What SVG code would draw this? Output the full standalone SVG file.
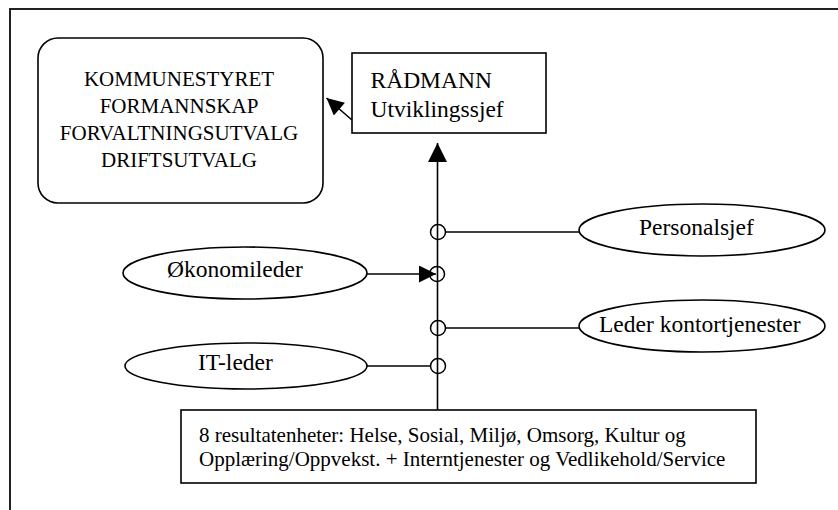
<svg xmlns="http://www.w3.org/2000/svg" width="838" height="510" viewBox="0 0 838 510" font-family="'Liberation Serif', 'Times New Roman', 'DejaVu Serif', serif">
<defs>
<marker id="arr" viewBox="0 0 10 10" refX="10" refY="5" markerWidth="18" markerHeight="17" markerUnits="userSpaceOnUse" orient="auto"><path d="M0,0 L10,5 L0,10 z" fill="#000"/></marker>
<marker id="arrBig" viewBox="0 0 10 10" refX="10" refY="5" markerWidth="19" markerHeight="19" markerUnits="userSpaceOnUse" orient="auto"><path d="M0,0 L10,5 L0,10 z" fill="#000"/></marker>
</defs>
<style>
.shape{fill:#fff;stroke:#000;stroke-width:1.6}
.ln{fill:none;stroke:#000;stroke-width:1.6}
.ring{fill:none;stroke:#000;stroke-width:1.5}
.t21{font-size:21px;fill:#000;font-family:'Liberation Serif','Times New Roman',serif}
.t23{font-size:23.5px;fill:#000;font-family:'Liberation Serif','Times New Roman',serif}
</style>
<rect width="838" height="510" fill="#fff"/>
<path d="M10,510 V9 H838" fill="none" stroke="#222" stroke-width="2"/>

<g id="connectors">
<line class="ln" x1="437.5" y1="410" x2="437.5" y2="143" marker-end="url(#arrBig)"/>
<line class="ln" x1="352" y1="120" x2="326.5" y2="98" marker-end="url(#arr)"/>
<line class="ln" x1="367" y1="274" x2="436" y2="274" marker-end="url(#arr)"/>
<line class="ln" x1="445.5" y1="232" x2="580" y2="232"/>
<line class="ln" x1="445.5" y1="328" x2="580" y2="328"/>
<line class="ln" x1="367" y1="366" x2="430" y2="366"/>
<circle class="ring" cx="438" cy="232" r="7.5"/>
<circle class="ring" cx="437" cy="274" r="7.5"/>
<circle class="ring" cx="438" cy="328" r="7.5"/>
<circle class="ring" cx="438" cy="366" r="7.5"/>
</g>

<g id="kommunestyret">
<rect class="shape" x="38" y="38" width="285" height="165" rx="20" ry="20"/>
<text class="t21" x="179" y="86" text-anchor="middle">KOMMUNESTYRET</text>
<text class="t21" x="179" y="113" text-anchor="middle">FORMANNSKAP</text>
<text class="t21" x="179" y="140" text-anchor="middle">FORVALTNINGSUTVALG</text>
<text class="t21" x="179" y="167" text-anchor="middle">DRIFTSUTVALG</text>
</g>

<g id="radmann">
<rect class="shape" x="352" y="53" width="194" height="80"/>
<text class="t23" x="370.5" y="88">RÅDMANN</text>
<text class="t23" x="370.5" y="117">Utviklingssjef</text>
</g>

<g id="personalsjef">
<ellipse class="shape" cx="702" cy="230" rx="123" ry="26"/>
<text class="t23" x="639" y="235">Personalsjef</text>
</g>

<g id="okonomileder">
<ellipse class="shape" cx="245" cy="273" rx="122" ry="26"/>
<text class="t23" x="167" y="277">Økonomileder</text>
</g>

<g id="kontortjenester">
<ellipse class="shape" cx="702" cy="326" rx="123" ry="26"/>
<text class="t23" x="599" y="332">Leder kontortjenester</text>
</g>

<g id="itleder">
<ellipse class="shape" cx="246" cy="366" rx="121" ry="23"/>
<text class="t23" x="198" y="370">IT-leder</text>
</g>

<g id="resultatenheter">
<rect class="shape" x="181" y="410" width="575" height="73"/>
<text class="t21" x="199" y="442">8 resultatenheter: Helse, Sosial, Miljø, Omsorg, Kultur og</text>
<text class="t21" x="199" y="466">Opplæring/Oppvekst. + Interntjenester og Vedlikehold/Service</text>
</g>
</svg>
